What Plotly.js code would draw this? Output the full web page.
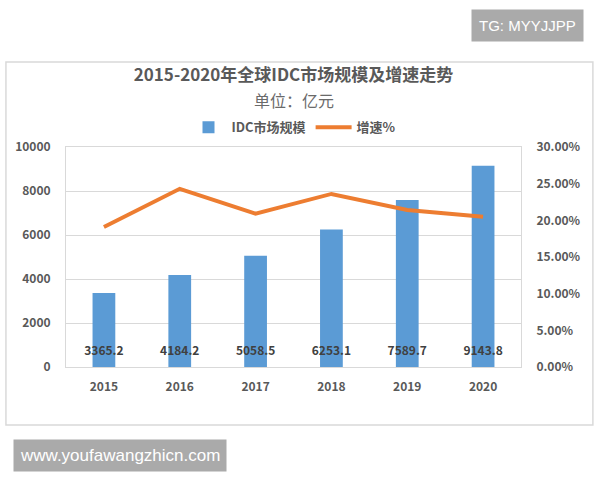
<!DOCTYPE html>
<html>
<head>
<meta charset="utf-8">
<script src="https://cdn.plot.ly/plotly-3.0.1.min.js"></script>
<style>html,body{margin:0;padding:0;background:#fff;}#chart{width:600px;height:480px;}</style>
</head>
<body>
<div id="chart"></div>
<script>
var years = ['2015', '2016', '2017', '2018', '2019', '2020'];
var marketSize = [3365.2, 4184.2, 5058.5, 6253.1, 7589.7, 9143.8];
var growthRate = [0.191, 0.243, 0.209, 0.236, 0.214, 0.205];
var sizeLabels = ['3365.2', '4184.2', '5058.5', '6253.1', '7589.7', '9143.8'];
var labelLevel = 680;

var cjk = '"Noto Sans CJK SC", "Microsoft YaHei", sans-serif';
var tickFont = {family: cjk, size: 12, color: '#595959', weight: 'bold'};

var traces = [
  {
    type: 'bar', name: 'IDC市场规模', x: years, y: marketSize,
    marker: {color: '#5B9BD5'}, width: 0.3, hoverinfo: 'x+y'
  },
  {
    type: 'scatter', mode: 'lines', name: '增速%', x: years, y: growthRate,
    yaxis: 'y2', line: {color: '#ED7D31', width: 4}
  },
  {
    type: 'scatter', mode: 'text', x: years, y: years.map(function(){return labelLevel;}),
    text: sizeLabels, textposition: 'middle center', showlegend: false, hoverinfo: 'skip',
    textfont: {family: cjk, size: 12, color: '#404040', weight: 'bold'}
  }
];

var layout = {
  width: 600, height: 480,
  margin: {l: 66, r: 79, t: 147, b: 113},
  paper_bgcolor: '#ffffff', plot_bgcolor: '#ffffff',
  title: {
    text: '<b>2015-2020年全球IDC市场规模及增速走势</b>',
    font: {family: cjk, size: 17, color: '#595959'},
    x: 0.5, xanchor: 'center', xref: 'paper',
    y: 1 - 75/480, yanchor: 'middle', yref: 'container'
  },
  showlegend: true,
  legend: {
    orientation: 'h', x: 0.5, xanchor: 'center', y: 1.09, yanchor: 'middle',
    font: {family: cjk, size: 13, color: '#595959', weight: 'bold'},
    bgcolor: 'rgba(0,0,0,0)', itemwidth: 36
  },
  xaxis: {
    type: 'category', tickfont: tickFont, showgrid: false,
    showline: true, mirror: true, linecolor: '#d9d9d9', linewidth: 1,
    ticks: 'outside', ticklen: 9, tickcolor: 'rgba(0,0,0,0)', fixedrange: true
  },
  yaxis: {
    range: [0, 10000], dtick: 2000, tickformat: 'd', tickfont: tickFont,
    showgrid: true, gridcolor: '#d9d9d9', gridwidth: 1, zeroline: false,
    showline: true, mirror: true, linecolor: '#d9d9d9', linewidth: 1,
    ticks: 'outside', ticklen: 12, tickcolor: 'rgba(0,0,0,0)'
  },
  yaxis2: {
    overlaying: 'y', side: 'right', range: [0, 0.30], dtick: 0.05,
    tickformat: '.2%', tickfont: tickFont, showgrid: false, zeroline: false,
    showline: false, ticks: 'outside', ticklen: 12, tickcolor: 'rgba(0,0,0,0)'
  },
  bargap: 0.7,
  shapes: [
    {type: 'rect', xref: 'paper', yref: 'paper', x0: -0.132, x1: 1.158, y0: -0.264, y1: 1.386,
     line: {color: '#d9d9d9', width: 1.5}, fillcolor: 'rgba(0,0,0,0)', layer: 'below'}
  ],
  annotations: [
    {text: '单位：亿元', xref: 'paper', yref: 'paper', x: 0.5, y: (367-100)/220,
     xanchor: 'center', yanchor: 'middle', showarrow: false,
     font: {family: cjk, size: 16, color: '#6a6a6a'}},
    {text: 'TG: MYYJJPP', xref: 'paper', yref: 'paper', x: (527-66)/455, y: (367-25)/220,
     xanchor: 'center', yanchor: 'middle', showarrow: false,
     font: {family: 'Liberation Sans, Arial, sans-serif', size: 15, color: '#ffffff'},
     bgcolor: '#aaaaaa', borderpad: 7},
    {text: 'www.youfawangzhicn.com', xref: 'paper', yref: 'paper', x: (120-66)/455, y: (367-455)/220,
     xanchor: 'center', yanchor: 'middle', showarrow: false,
     font: {family: 'Liberation Sans, Arial, sans-serif', size: 17, color: '#ffffff'},
     bgcolor: '#aaaaaa', borderpad: 6}
  ]
};

Plotly.newPlot('chart', traces, layout, {displayModeBar: false, staticPlot: true});
</script>
</body>
</html>
